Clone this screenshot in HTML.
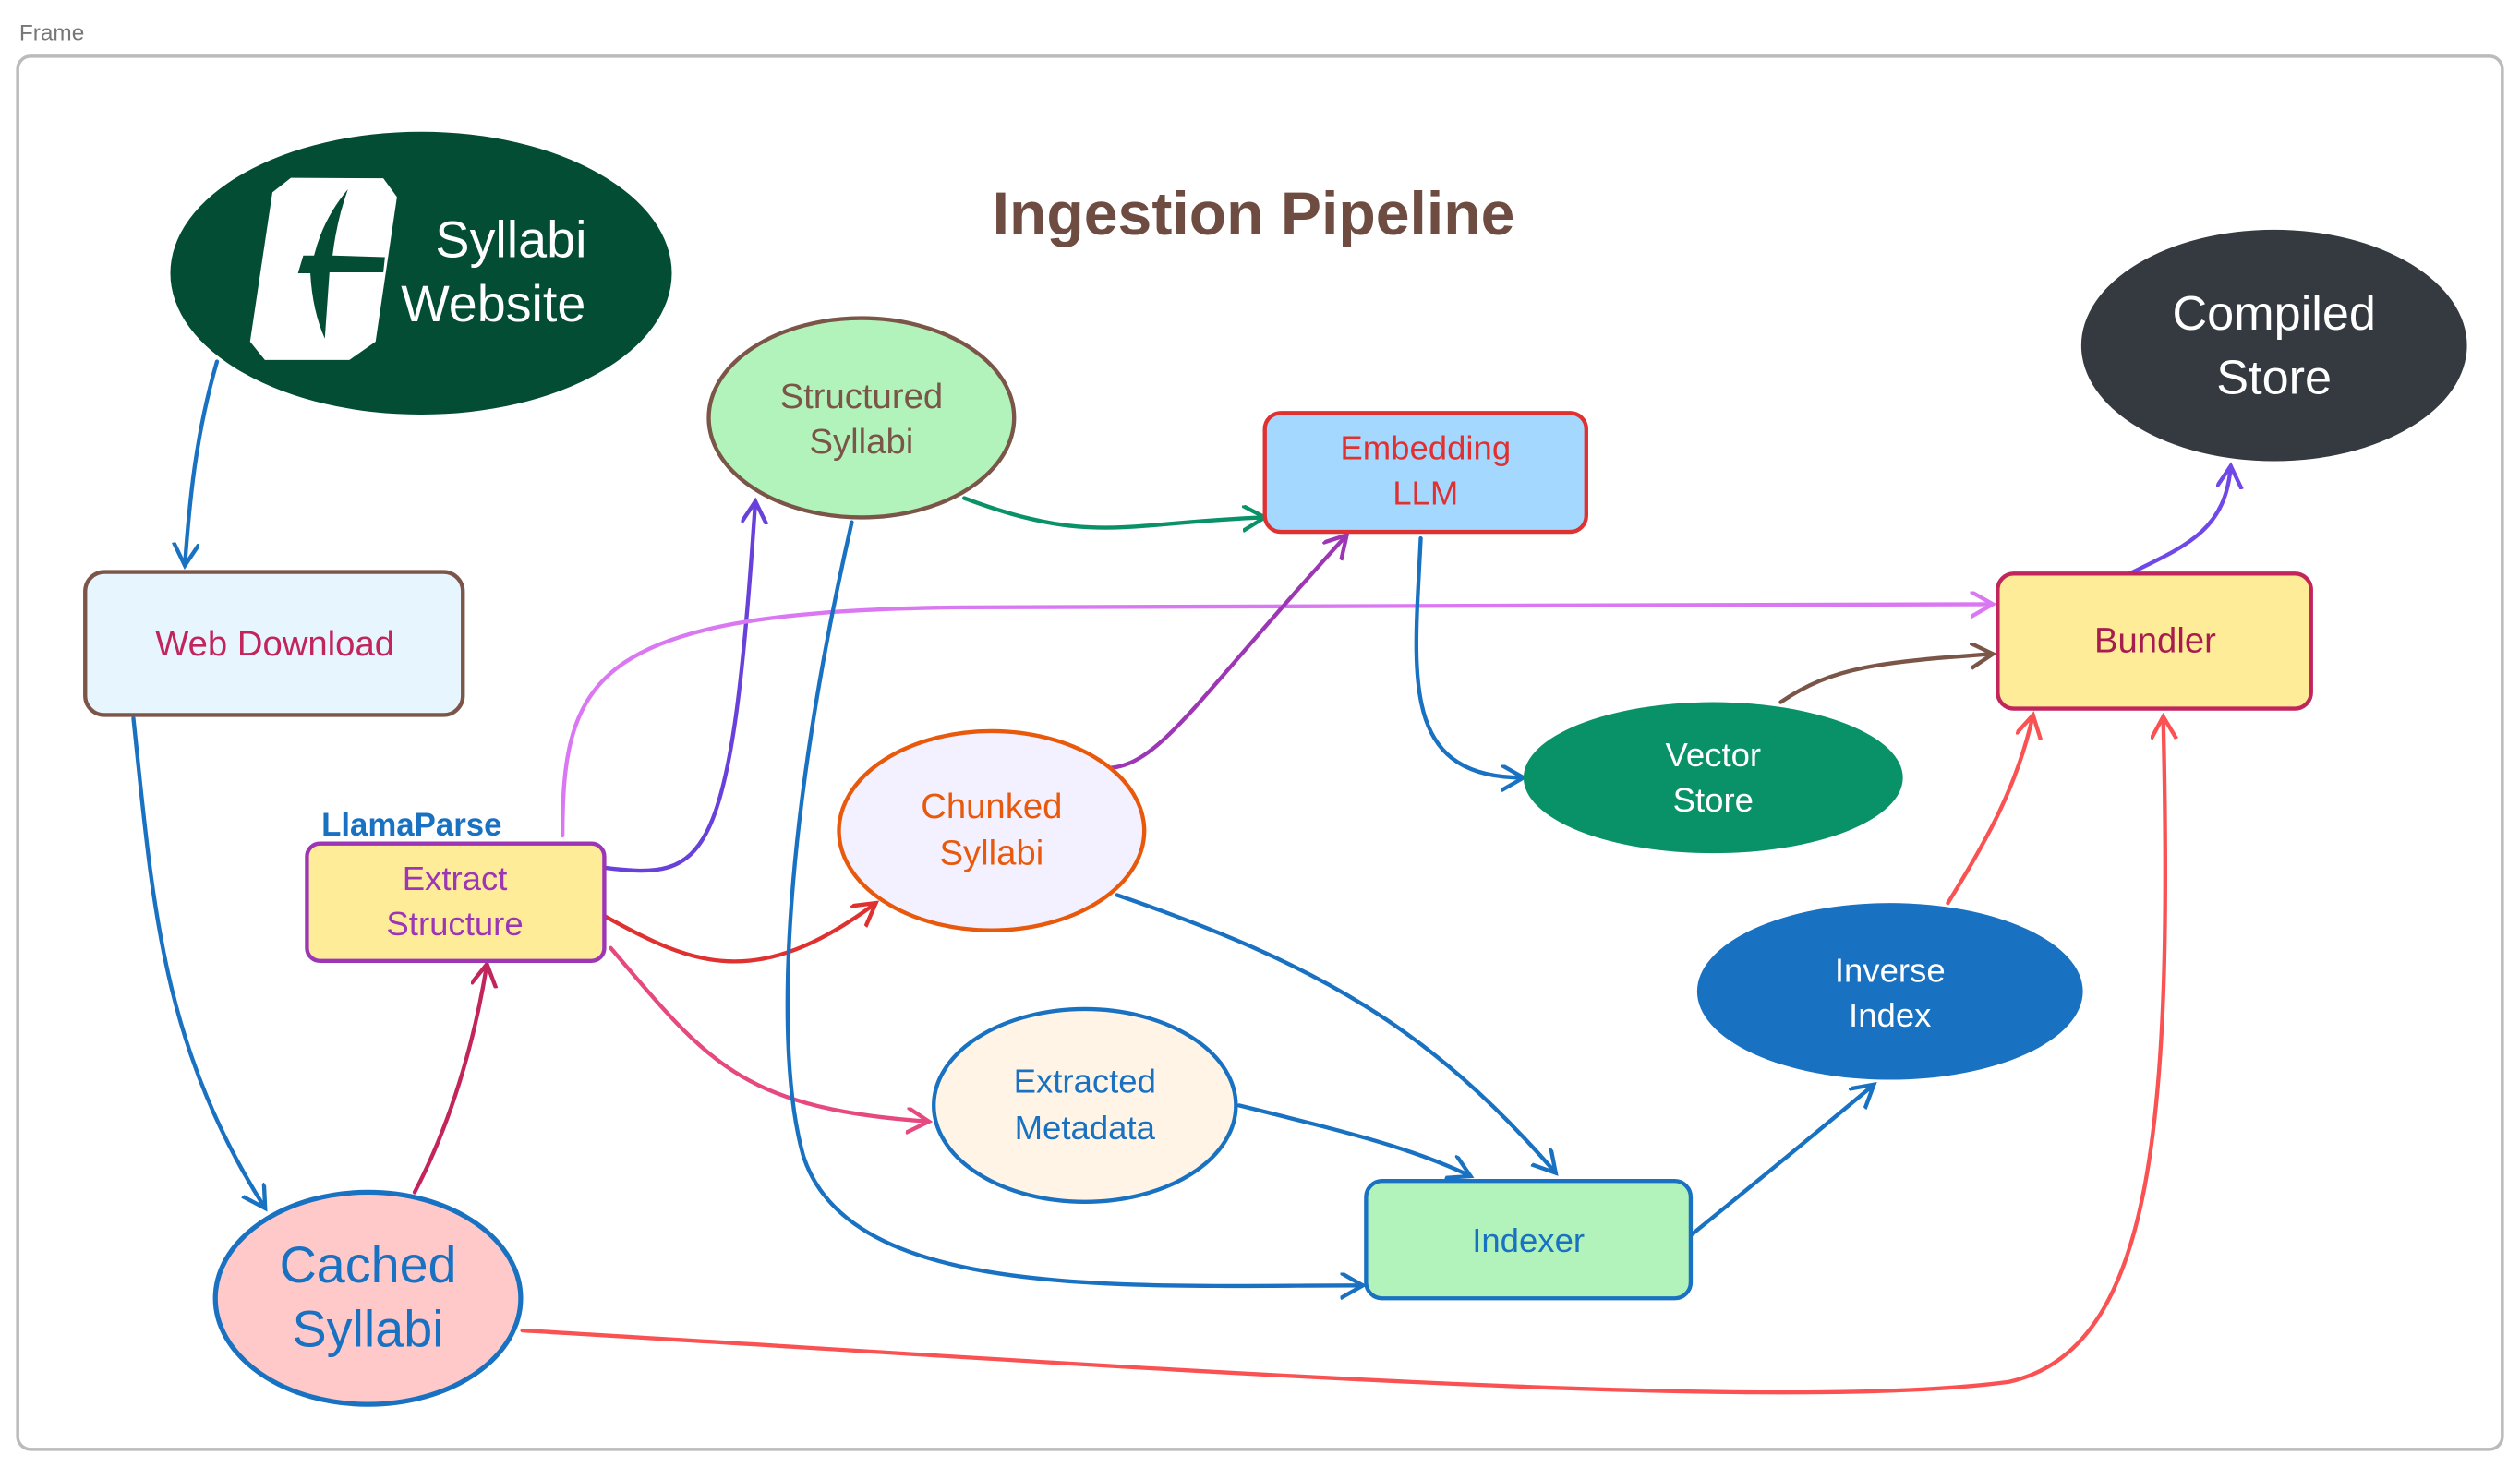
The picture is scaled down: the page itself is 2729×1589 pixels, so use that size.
<!DOCTYPE html>
<html><head><meta charset="utf-8"><style>
html,body{margin:0;padding:0;background:#fff;}
svg{display:block;}
text{font-family:"Liberation Sans","DejaVu Sans",sans-serif;}
</style></head><body>
<svg width="2729" height="1589" viewBox="0 0 1568 913" preserveAspectRatio="none" xmlns="http://www.w3.org/2000/svg">
<defs>
<marker id="m1" markerWidth="20" markerHeight="20" refX="14" refY="8" orient="auto" markerUnits="userSpaceOnUse"><path d="M0,0 L14,8 L0,16" fill="none" stroke="#1971c2" stroke-width="2.5"/></marker>
<marker id="m2" markerWidth="20" markerHeight="20" refX="14" refY="8" orient="auto" markerUnits="userSpaceOnUse"><path d="M0,0 L14,8 L0,16" fill="none" stroke="#c2255c" stroke-width="2.5"/></marker>
<marker id="m3" markerWidth="20" markerHeight="20" refX="14" refY="8" orient="auto" markerUnits="userSpaceOnUse"><path d="M0,0 L14,8 L0,16" fill="none" stroke="#6741d9" stroke-width="2.5"/></marker>
<marker id="m4" markerWidth="20" markerHeight="20" refX="14" refY="8" orient="auto" markerUnits="userSpaceOnUse"><path d="M0,0 L14,8 L0,16" fill="none" stroke="#da77f2" stroke-width="2.5"/></marker>
<marker id="m5" markerWidth="20" markerHeight="20" refX="14" refY="8" orient="auto" markerUnits="userSpaceOnUse"><path d="M0,0 L14,8 L0,16" fill="none" stroke="#e03131" stroke-width="2.5"/></marker>
<marker id="m6" markerWidth="20" markerHeight="20" refX="14" refY="8" orient="auto" markerUnits="userSpaceOnUse"><path d="M0,0 L14,8 L0,16" fill="none" stroke="#e64980" stroke-width="2.5"/></marker>
<marker id="m7" markerWidth="20" markerHeight="20" refX="14" refY="8" orient="auto" markerUnits="userSpaceOnUse"><path d="M0,0 L14,8 L0,16" fill="none" stroke="#099268" stroke-width="2.5"/></marker>
<marker id="m8" markerWidth="20" markerHeight="20" refX="14" refY="8" orient="auto" markerUnits="userSpaceOnUse"><path d="M0,0 L14,8 L0,16" fill="none" stroke="#9c36b5" stroke-width="2.5"/></marker>
<marker id="m9" markerWidth="20" markerHeight="20" refX="14" refY="8" orient="auto" markerUnits="userSpaceOnUse"><path d="M0,0 L14,8 L0,16" fill="none" stroke="#7a5548" stroke-width="2.5"/></marker>
<marker id="m10" markerWidth="20" markerHeight="20" refX="14" refY="8" orient="auto" markerUnits="userSpaceOnUse"><path d="M0,0 L14,8 L0,16" fill="none" stroke="#fa5252" stroke-width="2.5"/></marker>
<marker id="m11" markerWidth="20" markerHeight="20" refX="14" refY="8" orient="auto" markerUnits="userSpaceOnUse"><path d="M0,0 L14,8 L0,16" fill="none" stroke="#7048e8" stroke-width="2.5"/></marker>
</defs>
<text x="12" y="25" font-size="14" fill="#777">Frame</text>
<rect x="11" y="35" width="1546" height="867" rx="8" fill="none" stroke="#bbb" stroke-width="2"/>
<text x="780" y="146" font-size="38" font-weight="bold" fill="#6f4c41" text-anchor="middle">Ingestion Pipeline</text>

<g fill="none" stroke-width="2.5" stroke-linecap="round">
<path d="M135,225 C122,270 118,310 115,352" stroke="#1971c2" marker-end="url(#m1)"/>
<path d="M83,447 C95,560 100,650 165,752" stroke="#1971c2" marker-end="url(#m1)"/>
<path d="M258,742 C280,700 295,650 303,600" stroke="#c2255c" marker-end="url(#m2)"/>
<path d="M376,540 C440,548 455,540 470,312" stroke="#6741d9" marker-end="url(#m3)"/>
<path d="M350,520 C350,420 370,380 600,378 L1240,376" stroke="#da77f2" marker-end="url(#m4)"/>
<path d="M376,570 C430,600 470,618 545,562" stroke="#e03131" marker-end="url(#m5)"/>
<path d="M380,590 C440,660 460,690 578,698" stroke="#e64980" marker-end="url(#m6)"/>
<path d="M600,310 C680,340 700,325 787,322" stroke="#099268" marker-end="url(#m7)"/>
<path d="M530,325 C490,500 480,650 500,720 C530,810 700,800 848,800" stroke="#1971c2" marker-end="url(#m1)"/>
<path d="M685,478 C720,480 740,440 838,333" stroke="#9c36b5" marker-end="url(#m8)"/>
<path d="M884,335 C880,420 870,484 948,484" stroke="#1971c2" marker-end="url(#m1)"/>
<path d="M1108,437 C1140,415 1170,412 1240,407" stroke="#7a5548" marker-end="url(#m9)"/>
<path d="M695,557 C820,600 890,640 968,730" stroke="#1971c2" marker-end="url(#m1)"/>
<path d="M771,688 C840,705 880,715 915,732" stroke="#1971c2" marker-end="url(#m1)"/>
<path d="M1053,768 C1100,730 1130,705 1166,675" stroke="#1971c2" marker-end="url(#m1)"/>
<path d="M1212,562 C1235,525 1255,490 1265,445" stroke="#fa5252" marker-end="url(#m10)"/>
<path d="M325,828 C700,850 1100,880 1250,860 C1340,840 1352,700 1346,446" stroke="#fa5252" marker-end="url(#m10)"/>
<path d="M1325,357 C1360,340 1385,330 1388,290" stroke="#7048e8" marker-end="url(#m11)"/>
</g>

<ellipse cx="262" cy="170" rx="156" ry="88" fill="#024d33"/>
<path d="M181,110.7 L238.5,111 L247,122.6 L233.7,212.6 L217.4,224 L164.8,224 L155.6,212.6 L169.5,119.7 Z" fill="#fff"/>
<path d="M216.5,117.8 Q201.1,136 195.4,159 L188.7,159 L185.4,170.1 L193.1,170.1 Q194.4,193.5 202.1,210.7 L205,169.5 L238.5,169.5 L239.5,160 L206.9,159 Q209.8,136 216.5,117.8 Z" fill="#024d33"/>
<text x="318" y="160" font-size="32" fill="#fff" text-anchor="middle">Syllabi</text>
<text x="307" y="200" font-size="32" fill="#fff" text-anchor="middle">Website</text>

<ellipse cx="1415" cy="215" rx="120" ry="72" fill="#343a40"/>
<text x="1415" y="205" font-size="30" fill="#fff" text-anchor="middle">Compiled</text>
<text x="1415" y="245" font-size="30" fill="#fff" text-anchor="middle">Store</text>

<ellipse cx="536" cy="260" rx="95" ry="62" fill="#b2f2bb" stroke="#7a5548" stroke-width="2.5"/>
<text x="536" y="254" font-size="22" fill="#7a5548" text-anchor="middle">Structured</text>
<text x="536" y="282" font-size="22" fill="#7a5548" text-anchor="middle">Syllabi</text>

<rect x="787" y="257" width="200" height="74" rx="10" fill="#a5d8ff" stroke="#e03131" stroke-width="2.5"/>
<text x="887" y="286" font-size="21" fill="#e03131" text-anchor="middle">Embedding</text>
<text x="887" y="314" font-size="21" fill="#e03131" text-anchor="middle">LLM</text>

<rect x="53" y="356" width="235" height="89" rx="12" fill="#e7f5ff" stroke="#7a5548" stroke-width="2.5"/>
<text x="171" y="408" font-size="22" fill="#c2255c" text-anchor="middle">Web Download</text>

<rect x="1243" y="357" width="195" height="84" rx="10" fill="#ffec99" stroke="#c2255c" stroke-width="2.5"/>
<text x="1341" y="406" font-size="22" fill="#a61e4d" text-anchor="middle">Bundler</text>

<ellipse cx="1066" cy="484" rx="118" ry="47" fill="#099268"/>
<text x="1066" y="477" font-size="21" fill="#fff" text-anchor="middle">Vector</text>
<text x="1066" y="505" font-size="21" fill="#fff" text-anchor="middle">Store</text>

<ellipse cx="617" cy="517" rx="95" ry="62" fill="#f3f0ff" stroke="#e8590c" stroke-width="2.5"/>
<text x="617" y="509" font-size="22" fill="#e8590c" text-anchor="middle">Chunked</text>
<text x="617" y="538" font-size="22" fill="#e8590c" text-anchor="middle">Syllabi</text>

<text x="200" y="520" font-size="20" font-weight="bold" fill="#1971c2">LlamaParse</text>
<rect x="191" y="525" width="185" height="73" rx="8" fill="#ffec99" stroke="#9c36b5" stroke-width="2.5"/>
<text x="283" y="554" font-size="21" fill="#9c36b5" text-anchor="middle">Extract</text>
<text x="283" y="582" font-size="21" fill="#9c36b5" text-anchor="middle">Structure</text>

<ellipse cx="1176" cy="617" rx="120" ry="55" fill="#1971c2"/>
<text x="1176" y="611" font-size="21" fill="#fff" text-anchor="middle">Inverse</text>
<text x="1176" y="639" font-size="21" fill="#fff" text-anchor="middle">Index</text>

<ellipse cx="675" cy="688" rx="94" ry="60" fill="#fff4e6" stroke="#1971c2" stroke-width="2.5"/>
<text x="675" y="680" font-size="21" fill="#1971c2" text-anchor="middle">Extracted</text>
<text x="675" y="709" font-size="21" fill="#1971c2" text-anchor="middle">Metadata</text>

<rect x="850" y="735" width="202" height="73" rx="10" fill="#b2f2bb" stroke="#1971c2" stroke-width="2.5"/>
<text x="951" y="779" font-size="21" fill="#1971c2" text-anchor="middle">Indexer</text>

<ellipse cx="229" cy="808" rx="95" ry="66" fill="#ffc9c9" stroke="#1971c2" stroke-width="3"/>
<text x="229" y="798" font-size="32" fill="#1971c2" text-anchor="middle">Cached</text>
<text x="229" y="838" font-size="32" fill="#1971c2" text-anchor="middle">Syllabi</text>
</svg>
</body></html>
